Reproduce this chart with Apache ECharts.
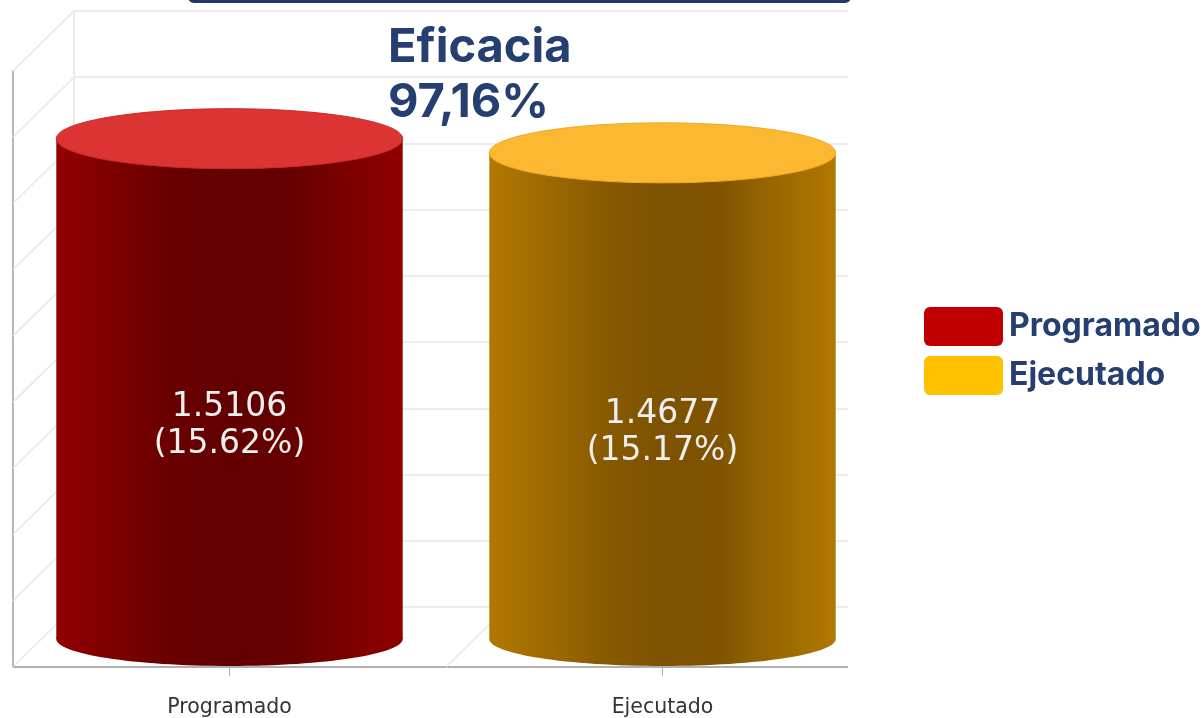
<!DOCTYPE html>
<html>
<head>
<meta charset="utf-8">
<style>html,body{margin:0;padding:0;background:#fff}#c{width:1204px;height:718px}</style>
<script src="https://cdn.jsdelivr.net/npm/echarts@6/dist/echarts.min.js"></script>
</head>
<body>
<div id="c"></div>
<script>
const categories = ['Programado', 'Ejecutado'];
const programadoValues = [1.5106];
const ejecutadoValues = [1.4677];
const percents = [15.62, 15.17];
const tickValues = [0, 0.2, 0.4, 0.6, 0.8, 1.0, 1.2, 1.4, 1.6, 1.8];
const titleLines = ['Eficacia', '97,16%'];

const NAVY = '#253f70';
const WALL = '#ececec';
const DEPTH_X = 61, DEPTH_Y = 60, BASE_LIFT = 27, TOP_LIFT = 28, ELLIPSE_RY = 30;

function bodyGradient(stops) {
  return {type: 'linear', x: 0, y: 0, x2: 1, y2: 0,
    colorStops: stops.map(s => ({offset: s[0], color: s[1]}))};
}
const skins = [
  {top: '#dc3333', rim: '#c92a2a', body: bodyGradient([[0, '#930000'], [0.14, '#800000'], [0.34, '#680000'], [0.5, '#620000'], [0.66, '#640000'], [0.78, '#740000'], [1, '#8f0000']])},
  {top: '#fdb832', rim: '#f0aa28', body: bodyGradient([[0, '#b27800'], [0.14, '#a16c03'], [0.34, '#875900'], [0.5, '#7d5200'], [0.66, '#7f5300'], [0.78, '#936302'], [1, '#b27800']])}
];

function cylinder(params, api) {
  const idx = api.value(0), val = api.value(1);
  const base = api.coord([idx, 0]);
  const top = api.coord([idx, val]);
  const rx = api.size([1, 0])[0] * 0.4;
  const cx = base[0];
  const y0 = base[1] - BASE_LIFT, y1 = top[1] - TOP_LIFT;
  const skin = skins[idx];
  const labelY = (y1 + base[1]) / 2 + 24;
  return {type: 'group', children: [
    {type: 'ellipse', shape: {cx: cx, cy: y0, rx: rx, ry: BASE_LIFT}, style: {fill: skin.body}},
    {type: 'rect', shape: {x: cx - rx, y: y1, width: rx * 2, height: y0 - y1}, style: {fill: skin.body}},
    {type: 'ellipse', shape: {cx: cx, cy: y1, rx: rx, ry: ELLIPSE_RY}, style: {fill: skin.top, stroke: skin.rim, lineWidth: 1}},
    {type: 'text', x: cx, y: labelY, style: {
      text: val.toFixed(4) + '\n(' + percents[idx].toFixed(2) + '%)',
      fill: '#eeeeee', font: '33px "DejaVu Sans"', lineHeight: 37, align: 'center', verticalAlign: 'middle'
    }}
  ]};
}

function wall(params, api) {
  const cs = params.coordSys;
  const v = api.value(0);
  const p = api.coord([0, v]);
  const x = cs.x, y = p[1];
  const line = (x1, y1, x2, y2, stroke, w) => ({type: 'line', shape: {x1, y1, x2, y2}, style: {stroke: stroke, lineWidth: w}});
  const children = [line(x, y, x - DEPTH_X, y + DEPTH_Y, '#e8e8e8', 1.5)];
  if (v === 0) {
    children.push(line(x - DEPTH_X, y + DEPTH_Y, x + cs.width, y + DEPTH_Y, '#b0b0b0', 2));
    children.push(line(x + 372, y + DEPTH_Y, x + 372 + DEPTH_X, y, '#e8e8e8', 1.5));
  }
  return {type: 'group', children: children};
}

const chart = echarts.init(document.getElementById('c'));
chart.setOption({
  animation: false,
  backgroundColor: '#fff',
  title: {
    text: titleLines.join('\n'), left: 383, top: 15, z: 20,
    textStyle: {color: NAVY, fontFamily: 'Inter', fontWeight: 700, fontSize: 47, lineHeight: 55, align: 'left'}
  },
  legend: {
    orient: 'vertical', left: 919, top: 302, itemWidth: 79, itemHeight: 39, itemGap: 10,
    icon: 'path://M6 0H73A6 6 0 0 1 79 6V33A6 6 0 0 1 73 39H6A6 6 0 0 1 0 33V6A6 6 0 0 1 6 0Z',
    data: [{name: categories[0], itemStyle: {color: '#c00000'}}, {name: categories[1], itemStyle: {color: '#ffc000'}}],
    selectedMode: false,
    textStyle: {color: NAVY, fontFamily: 'Inter', fontWeight: 700, fontSize: 32, padding: [0, 0, 8, 1]}
  },
  graphic: [{type: 'rect', shape: {x: 188, y: -12, width: 663, height: 15, r: 6}, style: {fill: '#1f3864'}}],
  grid: [
    {left: 13, top: 71, width: 866, height: 596},
    {left: 74, top: 11, width: 774, height: 596}
  ],
  xAxis: [
    {gridIndex: 0, type: 'category', data: categories,
      axisLine: {show: false},
      axisTick: {show: true, alignWithLabel: true, length: 10, lineStyle: {color: '#b0b0b0'}},
      axisLabel: {color: '#333', fontFamily: 'DejaVu Sans', fontSize: 20.5, margin: 31}},
    {gridIndex: 1, type: 'category', data: categories, show: false}
  ],
  yAxis: [
    {gridIndex: 0, type: 'value', min: 0, max: 1.8, interval: 0.2,
      axisLabel: {show: false}, axisTick: {show: false}, splitLine: {show: false},
      axisLine: {show: true, lineStyle: {color: '#b8b8b8', width: 2}}},
    {gridIndex: 1, type: 'value', min: 0, max: 1.8, interval: 0.2,
      axisLabel: {show: false}, axisTick: {show: false},
      splitLine: {show: true, lineStyle: {color: WALL, width: 2}},
      axisLine: {show: true, lineStyle: {color: WALL, width: 2}}}
  ],
  series: [
    {type: 'custom', name: 'walls', xAxisIndex: 1, yAxisIndex: 1, silent: true, z: 1,
      data: tickValues.map(v => [v]), encode: {y: 0}, renderItem: wall},
    {type: 'custom', name: categories[0], xAxisIndex: 0, yAxisIndex: 0, z: 5, itemStyle: {color: '#c00000'},
      data: programadoValues.map(v => [0, v]), encode: {x: 0, y: 1}, renderItem: cylinder},
    {type: 'custom', name: categories[1], xAxisIndex: 0, yAxisIndex: 0, z: 5, itemStyle: {color: '#ffc000'},
      data: ejecutadoValues.map(v => [1, v]), encode: {x: 0, y: 1}, renderItem: cylinder}
  ]
});
</script>
</body>
</html>
